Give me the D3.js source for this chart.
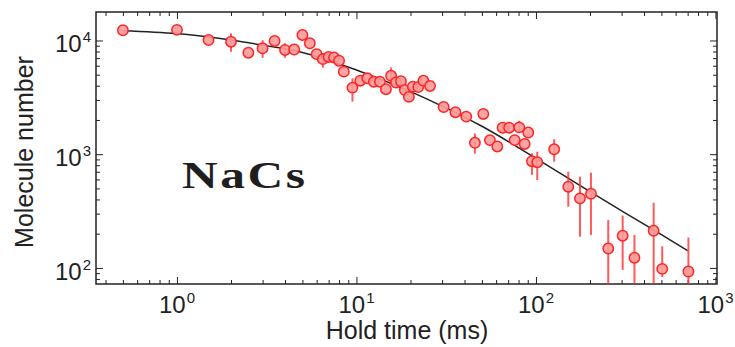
<!DOCTYPE html>
<html>
<head>
<meta charset="utf-8">
<script src="https://cdn.jsdelivr.net/npm/d3@7"></script>
<style>
  html, body { margin: 0; padding: 0; background: #fff; }
  svg { display: block; }
  .tick line { stroke: #222; stroke-width: 1; }
  .domain { display: none; }
</style>
</head>
<body>
<svg id="chart" width="735" height="347"></svg>
<script>
// Hold time (ms) of each measurement
const holdTime = [0.5, 1.0, 1.5, 2.0, 2.5, 3.0, 3.5, 4.0, 4.5, 5.0, 5.5, 6.0, 6.5, 7.0, 7.5, 8.0, 8.5,
  9.5, 10.5, 11.5, 12.5, 13.5, 14.6, 15.6, 16.6, 17.7, 18.6, 19.6, 20.6, 22.1, 23.6, 25.7,
  30.6, 35.6, 40.9, 45.7, 50.9, 55.4, 60.9, 65.2, 70.9, 76.1, 80.7, 86.5, 90.6, 95.0, 101.7,
  126.3, 151.4, 175.9, 202.5, 252.8, 304.1, 353.8, 452.6, 505.2, 707];
// Remaining molecule number
const molecules = [12300, 12400, 10100, 9760, 7810, 8540, 9900, 8250, 8330, 11180, 9450, 7580, 6850, 7160, 7090, 6640, 5320,
  3850, 4430, 4650, 4340, 4340, 3730, 4890, 4270, 4380, 3670, 3190, 3930, 3900, 4420, 3980,
  2600, 2340, 2140, 1260, 2260, 1330, 1170, 1710, 1710, 1330, 1720, 1230, 1550, 868, 850,
  1104, 518, 409, 449, 148, 192, 123, 212, 98, 93];
// Upper / lower error bar lengths
const errHigh = [0, 0, 0, 1800, 0, 1500, 0, 1200, 0, 0, 0, 0, 900, 0, 0, 0, 0,
  800, 0, 0, 0, 0, 0, 900, 0, 0, 0, 0, 0, 0, 0, 0,
  0, 0, 0, 260, 0, 0, 0, 200, 200, 0, 250, 0, 0, 150, 200,
  250, 183, 225, 239, 116, 96, 72, 162, 57, 92];
const errLow = [0, 0, 0, 1800, 0, 1500, 0, 1200, 0, 0, 0, 0, 1080, 0, 0, 0, 0,
  950, 0, 0, 0, 0, 0, 600, 0, 0, 0, 0, 0, 0, 0, 0,
  0, 0, 0, 250, 0, 0, 0, 150, 150, 0, 150, 0, 0, 210, 257,
  245, 173, 221, 254, 148, 96, 123, 212, 15, 93];

// Fitted decay curve
const fitTime = [0.5, 1, 2, 3, 5, 10, 20, 30, 50, 100, 200, 300, 500, 700];
const fitMolecules = [12200, 11500, 10100, 9100, 7850, 5500, 3550, 2650, 1760, 920, 468, 318, 196, 142];

// Labelled decades (exponents of 10)
const xDecades = [0, 1, 2, 3];
const yDecades = [2, 3, 4];

const svg = d3.select("#chart");
const plot = { left: 96, right: 717, top: 12, bottom: 284 };

const x = d3.scaleLog().domain([0.354, 1020]).range([plot.left, plot.right]);
const y = d3.scaleLog().domain([72.2, 17800]).range([plot.bottom, plot.top]);

function minorTicks(scale) {
  const [a, b] = scale.domain();
  const out = [];
  for (let d = Math.floor(Math.log10(a)); d <= Math.ceil(Math.log10(b)); d++) {
    for (let k = 2; k <= 9; k++) {
      const v = k * Math.pow(10, d);
      if (v > a && v < b) out.push(v);
    }
  }
  return out;
}
const xMajor = xDecades.map(e => Math.pow(10, e));
const yMajor = yDecades.map(e => Math.pow(10, e));
const xMinor = minorTicks(x);
const yMinor = minorTicks(y);

// Inward ticks on all four sides
function addTicks(axisFn, scale, values, size, transform) {
  svg.append("g")
    .attr("transform", transform)
    .call(axisFn(scale).tickValues(values).tickSize(-size).tickFormat(""));
}
addTicks(d3.axisBottom, x, xMinor, 4, `translate(0,${plot.bottom})`);
addTicks(d3.axisBottom, x, xMajor, 7, `translate(0,${plot.bottom})`);
addTicks(d3.axisTop, x, xMinor, 4, `translate(0,${plot.top})`);
addTicks(d3.axisTop, x, xMajor, 7, `translate(0,${plot.top})`);
addTicks(d3.axisLeft, y, yMinor, 4, `translate(${plot.left},0)`);
addTicks(d3.axisLeft, y, yMajor, 7, `translate(${plot.left},0)`);
addTicks(d3.axisRight, y, yMinor, 4, `translate(${plot.right},0)`);
addTicks(d3.axisRight, y, yMajor, 7, `translate(${plot.right},0)`);

// Frame
svg.append("rect")
  .attr("x", plot.left).attr("y", plot.top)
  .attr("width", plot.right - plot.left).attr("height", plot.bottom - plot.top)
  .attr("fill", "none").attr("stroke", "#222").attr("stroke-width", 1.5);

const font = "'Liberation Sans', Arial, Helvetica, sans-serif";

// Power-of-ten tick labels
function powerLabel(sel, exp) {
  sel.append("tspan").text("10");
  sel.append("tspan").attr("font-size", 15).attr("dy", -10).attr("dx", 1).text(exp);
}
xDecades.forEach(e => {
  const t = svg.append("text")
    .attr("x", x(Math.pow(10, e))).attr("y", 313)
    .attr("text-anchor", "middle")
    .attr("font-family", font).attr("font-size", 24).attr("fill", "#222");
  powerLabel(t, e);
});
yDecades.forEach(e => {
  const t = svg.append("text")
    .attr("x", 91).attr("y", y(Math.pow(10, e)) + 12)
    .attr("text-anchor", "end")
    .attr("font-family", font).attr("font-size", 24).attr("fill", "#222");
  powerLabel(t, e);
});

// Axis titles
svg.append("text")
  .attr("x", 407).attr("y", 339)
  .attr("text-anchor", "middle")
  .attr("font-family", font).attr("font-size", 25).attr("fill", "#222")
  .text("Hold time (ms)");
svg.append("text")
  .attr("transform", "translate(33,152) rotate(-90)")
  .attr("text-anchor", "middle")
  .attr("font-family", font).attr("font-size", 25).attr("fill", "#222")
  .text("Molecule number");

// Species label (wide bold serif)
const nameScale = 1.3;
svg.append("text")
  .attr("transform", `translate(182,188) scale(${nameScale},1)`)
  .attr("font-family", "'Liberation Serif', 'Times New Roman', serif")
  .attr("font-weight", "bold").attr("font-size", 38).attr("fill", "#1e1e1e")
  .attr("textLength", 123 / nameScale).attr("lengthAdjust", "spacing")
  .text("NaCs");

// Data layer clipped to the frame
svg.append("clipPath").attr("id", "plotClip")
  .append("rect")
  .attr("x", plot.left).attr("y", plot.top)
  .attr("width", plot.right - plot.left).attr("height", plot.bottom - plot.top);
const layer = svg.append("g").attr("clip-path", "url(#plotClip)");

// Fit curve
const fitData = fitTime.map((t, i) => [t, fitMolecules[i]]);
layer.append("path")
  .datum(fitData)
  .attr("fill", "none").attr("stroke", "#222").attr("stroke-width", 1.5)
  .attr("d", d3.line().x(d => x(d[0])).y(d => y(d[1])).curve(d3.curveMonotoneX));

const points = holdTime.map((t, i) => ({
  t, n: molecules[i], hi: errHigh[i], lo: errLow[i]
}));
const yMin = y.domain()[0] * 0.9;

// Error bars
layer.append("g").selectAll("line")
  .data(points.filter(d => d.hi > 0 || d.lo > 0))
  .join("line")
  .attr("x1", d => x(d.t)).attr("x2", d => x(d.t))
  .attr("y1", d => y(d.n + d.hi))
  .attr("y2", d => y(Math.max(d.n - d.lo, yMin)))
  .attr("stroke", "#ff3030").attr("stroke-opacity", 0.8).attr("stroke-width", 2);

// Markers
layer.append("g").selectAll("circle")
  .data(points)
  .join("circle")
  .attr("cx", d => x(d.t)).attr("cy", d => y(d.n))
  .attr("r", 5.2)
  .attr("fill", "#ff9a9a").attr("fill-opacity", 0.9)
  .attr("stroke", "#ff2424").attr("stroke-width", 1.5);
</script>
</body>
</html>
